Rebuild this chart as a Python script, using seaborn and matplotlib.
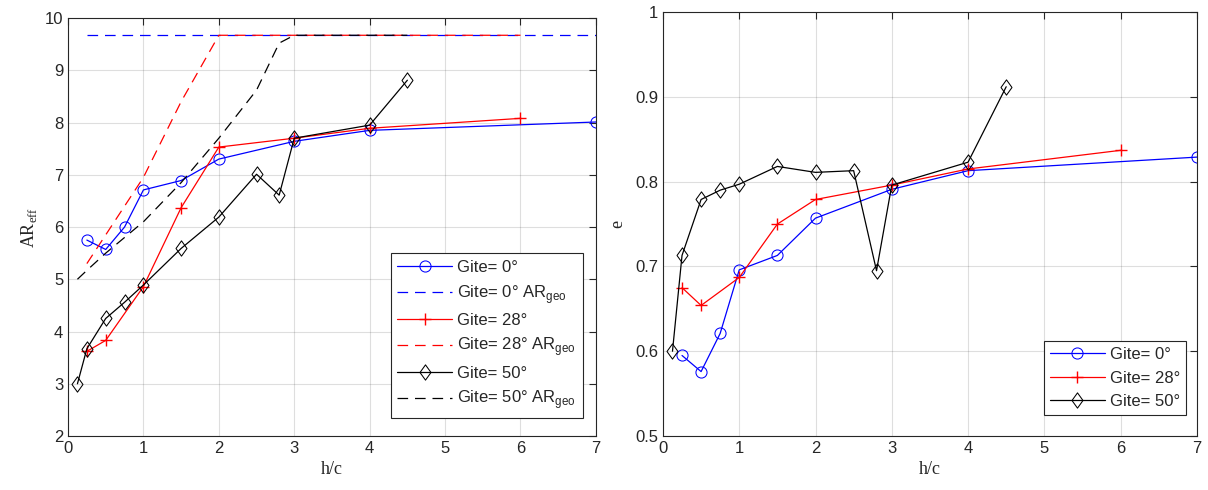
import numpy as np
import pandas as pd
import seaborn as sns
import matplotlib.pyplot as plt
from matplotlib.path import Path

# h/c positions for each heel angle
x0 = [0.25, 0.5, 0.75, 1, 1.5, 2, 3, 4, 7]
x28 = [0.25, 0.5, 1, 1.5, 2, 3, 4, 6]
x50 = [0.125, 0.25, 0.5, 0.75, 1, 1.5, 2, 2.5, 2.8, 3, 4, 4.5]

# effective aspect ratio
ar0 = [5.75, 5.57, 6.0, 6.71, 6.89, 7.3, 7.64, 7.85, 8.01]
ar28 = [3.62, 3.83, 4.86, 6.37, 7.53, 7.7, 7.89, 8.08]
ar50 = [3.0, 3.67, 4.25, 4.56, 4.89, 5.59, 6.19, 7.01, 6.61, 7.7, 7.95, 8.81]

# geometric aspect ratio
argeo0 = [9.67, 9.67, 9.67, 9.67, 9.67, 9.67, 9.67, 9.67, 9.67]
argeo28 = [5.3, 5.85, 6.95, 8.4, 9.67, 9.67, 9.67, 9.67]
argeo50 = [5.0, 5.17, 5.5, 5.8, 6.1, 6.85, 7.7, 8.62, 9.52, 9.67, 9.67, 9.67]

# Oswald efficiency
e0 = [0.595, 0.576, 0.621, 0.696, 0.713, 0.757, 0.791, 0.813, 0.829]
e28 = [0.675, 0.654, 0.687, 0.750, 0.779, 0.796, 0.815, 0.837]
e50 = [0.600, 0.713, 0.779, 0.790, 0.797, 0.818, 0.811, 0.813, 0.695, 0.796, 0.823, 0.912]

labels = ['Gite= 0°', 'Gite= 28°', 'Gite= 50°']
colors = ['#0000ff', '#ff0000', '#000000']

sns.set_theme(style='white')
plt.rcParams['font.family'] = ['Liberation Sans', 'DejaVu Sans']
plt.rcParams['mathtext.fontset'] = 'custom'
plt.rcParams['mathtext.rm'] = 'Liberation Sans'

# MATLAB-like diamond (a bit wider than matplotlib's thin one)
diamond = Path([(0, 1), (0.72, 0), (0, -1), (-0.72, 0), (0, 1)],
               [Path.MOVETO, Path.LINETO, Path.LINETO, Path.LINETO, Path.CLOSEPOLY])
markers = [dict(marker='o', markersize=8, markerfacecolor='none'),
           dict(marker='+', markersize=9, markeredgewidth=1.0),
           dict(marker=diamond, markersize=11, markerfacecolor='none')]

fig = plt.figure(figsize=(12.08, 4.9), dpi=100)
ax1 = fig.add_axes([0.0563, 0.1102, 0.437, 0.853])
ax2 = fig.add_axes([0.5488, 0.1102, 0.442, 0.865])

xs = [x0, x28, x50]
ars = [ar0, ar28, ar50]
geos = [argeo0, argeo28, argeo50]
es = [e0, e28, e50]

for i in range(3):
    df = pd.DataFrame({'hc': xs[i], 'ar': ars[i], 'geo': geos[i], 'e': es[i]})
    sns.lineplot(data=df, x='hc', y='ar', ax=ax1, color=colors[i], lw=0.9,
                 markeredgecolor=colors[i], label=labels[i], sort=False, **markers[i])
    sns.lineplot(data=df, x='hc', y='geo', ax=ax1, color=colors[i], lw=0.9,
                 linestyle=(0, (8.5, 5.5)), label=labels[i] + r' AR$_{\mathregular{geo}}$', sort=False)
    sns.lineplot(data=df, x='hc', y='e', ax=ax2, color=colors[i], lw=0.9,
                 markeredgecolor=colors[i], label=labels[i], sort=False, **markers[i])

for ax in (ax1, ax2):
    ax.set_xlim(0, 7)
    ax.set_xticks(range(0, 8))
    ax.grid(True, color='#262626', alpha=0.15, lw=0.8)
    ax.tick_params(direction='in', top=True, right=True, length=5, width=0.8,
                   labelsize=12, colors='#262626', labelcolor='#262626')
    for s in ax.spines.values():
        s.set_color('#262626')
        s.set_linewidth(0.8)
    ax.set_xlabel('h/c', fontsize=13, family=['Liberation Serif'], color='#262626', labelpad=4)

ax1.set_ylim(2, 10)
ax1.set_yticks(range(2, 11))
ax1.set_ylabel(r'AR$_{\mathregular{eff}}$', fontsize=13, family=['Liberation Serif'],
               color='#262626', labelpad=4)

ax2.set_ylim(0.5, 1)
ax2.set_yticks([0.5, 0.6, 0.7, 0.8, 0.9, 1.0])
ax2.set_yticklabels(['0.5', '0.6', '0.7', '0.8', '0.9', '1'])
ax2.set_ylabel('e', fontsize=13, family=['Liberation Serif'], color='#262626', labelpad=6)

leg1 = ax1.legend(loc='lower right', bbox_to_anchor=(0.975, 0.043), fontsize=12,
                  handlelength=3.3, handletextpad=0.3, labelspacing=0.45,
                  borderpad=0.4, borderaxespad=0, fancybox=False, framealpha=1,
                  edgecolor='#262626')
leg1.get_frame().set_linewidth(0.8)
leg2 = ax2.legend(loc='lower right', bbox_to_anchor=(0.979, 0.05), fontsize=12,
                  handlelength=3.3, handletextpad=0.3, labelspacing=0.5,
                  borderpad=0.35, borderaxespad=0, fancybox=False, framealpha=1,
                  edgecolor='#262626')
leg2.get_frame().set_linewidth(0.8)

fig.savefig('out.png', dpi=100)
